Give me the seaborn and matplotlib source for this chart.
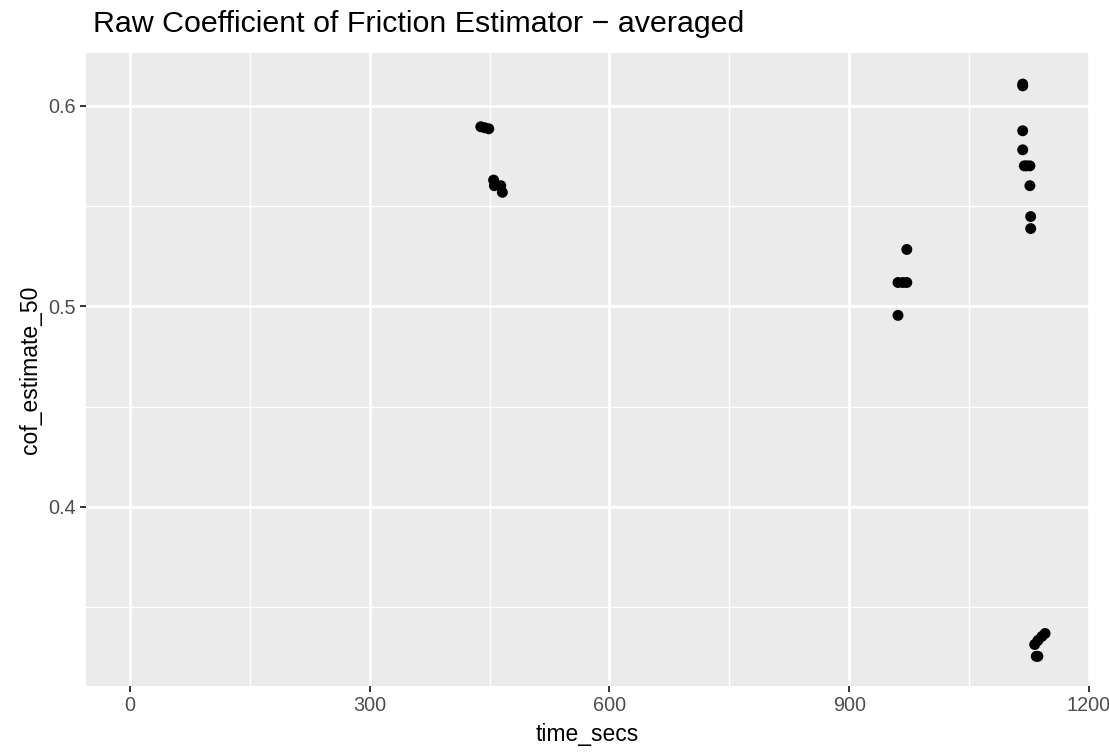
import numpy as np
import pandas as pd
import seaborn as sns
import matplotlib.pyplot as plt

# values
time_secs = [439, 444, 449, 455, 456, 464, 466,
             961, 967, 972, 972, 961,
             1117, 1117, 1117, 1117, 1119, 1122, 1126, 1126, 1127, 1127,
             1132, 1136, 1141, 1145, 1134, 1136]
cof_estimate_50 = [0.5896, 0.5891, 0.5886, 0.5630, 0.5602, 0.5602, 0.5569,
                   0.5119, 0.5119, 0.5119, 0.5284, 0.4955,
                   0.6109, 0.6100, 0.5876, 0.5781, 0.5701, 0.5701, 0.5701, 0.5602, 0.5448, 0.5388,
                   0.3313, 0.3333, 0.3353, 0.3368, 0.3254, 0.3254]

x_major = [0, 300, 600, 900, 1200]
x_minor = [150, 450, 750, 1050]
y_major = [0.4, 0.5, 0.6]
y_minor = [0.35, 0.45, 0.55]
x_labels = ['0', '300', '600', '900', '1200']
y_labels = ['0.4', '0.5', '0.6']

TITLE = 'Raw Coefficient of Friction Estimator \u2212 averaged'

sns.set_theme(style='darkgrid', rc={
    'axes.facecolor': '#EBEBEB',
    'grid.color': 'white',
    'axes.edgecolor': 'none',
})
plt.rcParams['font.family'] = ['Liberation Sans', 'DejaVu Sans']

df = pd.DataFrame({'time_secs': time_secs, 'cof_estimate_50': cof_estimate_50})

fig = plt.figure(figsize=(11.09, 7.55), dpi=100)
fig.subplots_adjust(left=0.0775, right=0.982, top=0.9298, bottom=0.0914)
ax = fig.add_subplot(111)

sns.scatterplot(data=df, x='time_secs', y='cof_estimate_50', color='black',
                edgecolor='none', s=62, ax=ax, zorder=3)

ax.set_xlim(-55, 1200)
ax.set_ylim(0.3106, 0.6264)

ax.set_xticks(x_major)
ax.set_xticklabels(x_labels)
ax.set_xticks(x_minor, minor=True)
ax.set_yticks(y_major)
ax.set_yticklabels(y_labels)
ax.set_yticks(y_minor, minor=True)

ax.grid(which='major', color='white', linewidth=2.0)
ax.grid(which='minor', color='white', linewidth=1.0)
ax.set_axisbelow(True)

ax.tick_params(which='major', length=4, width=1.4, color='#333333',
               labelcolor='#4D4D4D', labelsize=14.3, pad=3,
               bottom=True, left=True)
ax.tick_params(which='minor', length=0)

ax.set_xlabel('time_secs', fontsize=16.5, color='black', labelpad=6)
ax.set_ylabel('cof_estimate_50', fontsize=16.5, color='black', labelpad=5)
fig.text(93 / 1109, 1 - 24 / 755, TITLE, fontsize=21.9, color='black',
         ha='left', va='center')

plt.savefig('out.png', dpi=100)
